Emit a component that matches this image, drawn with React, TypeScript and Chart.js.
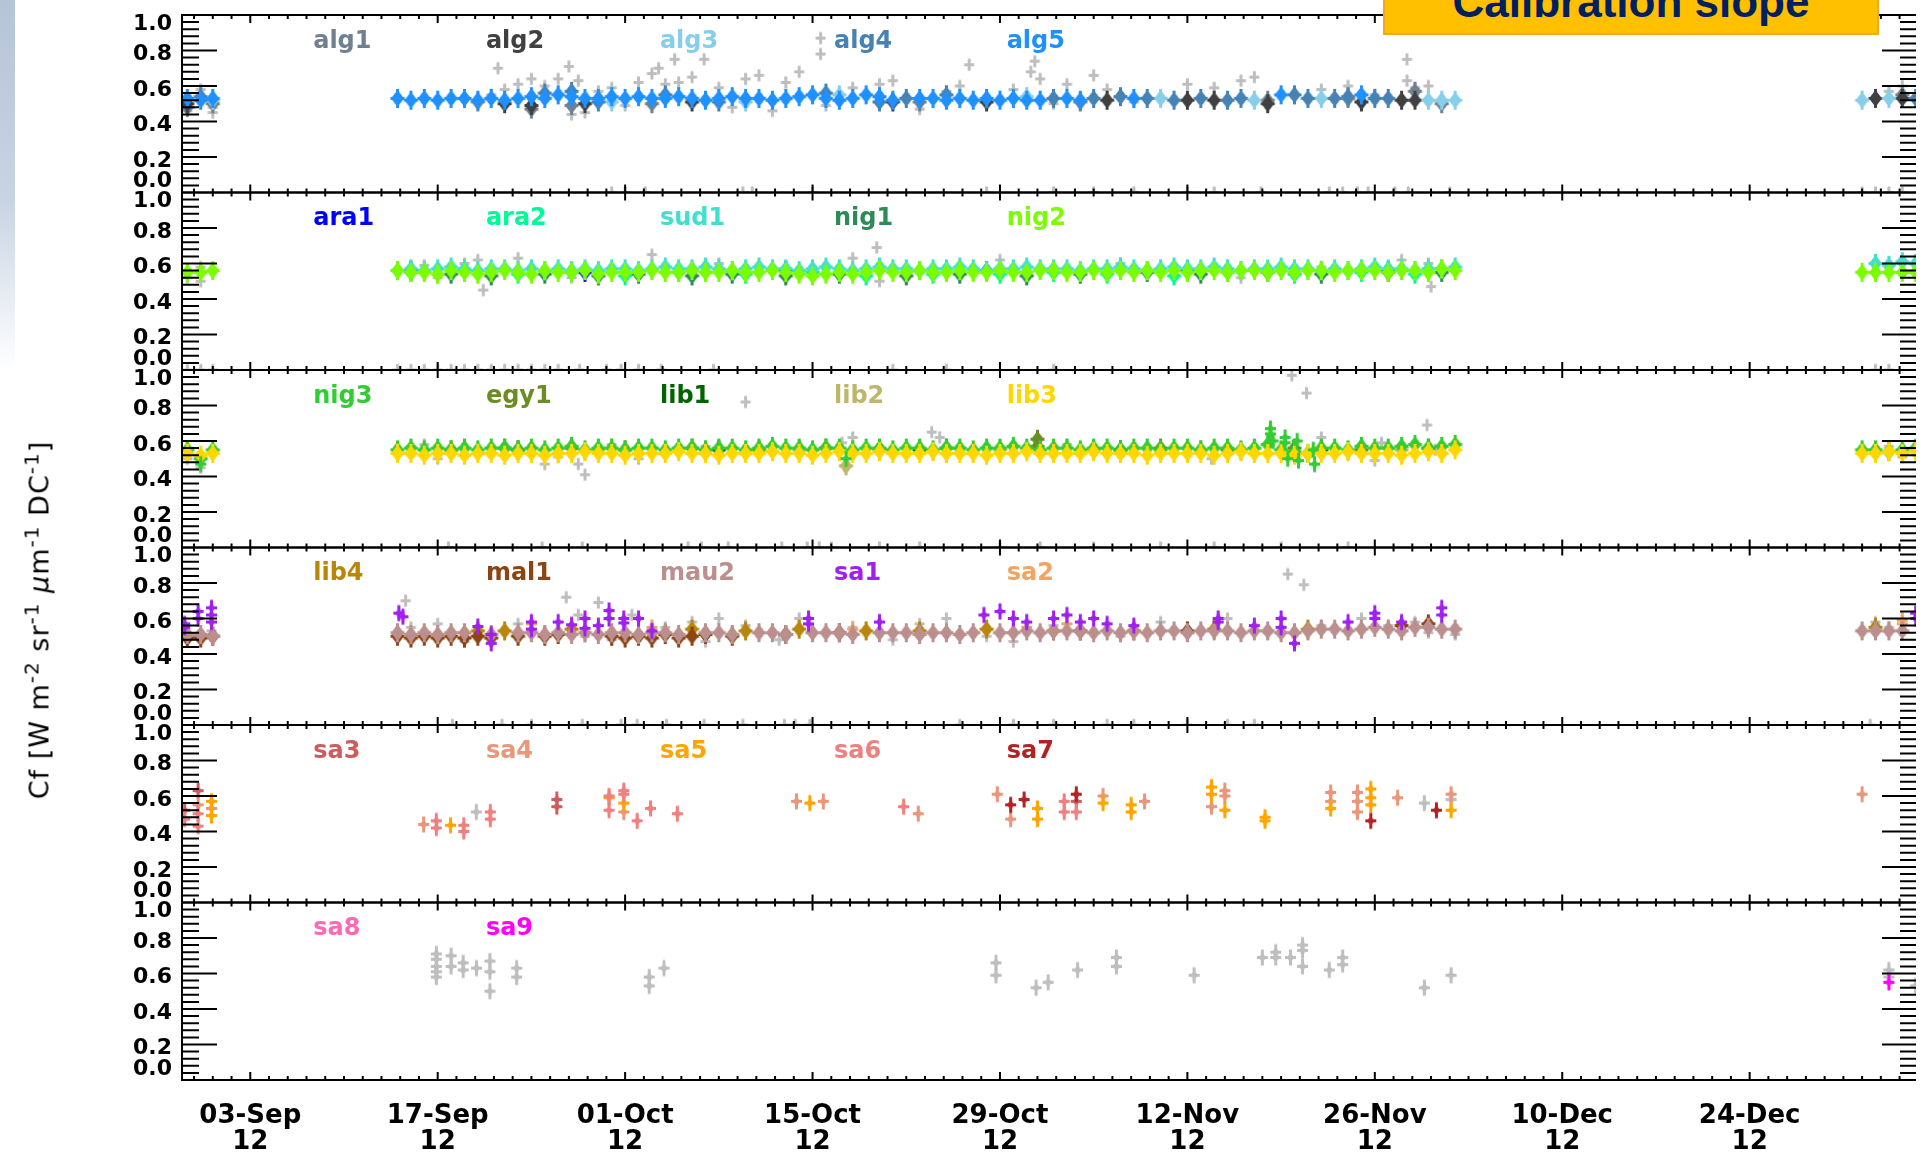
import React, { useEffect, useRef } from 'react';
import { Chart, registerables } from 'chart.js';

Chart.register(...registerables);

/* ---------------- axes ---------------- */
// x values are days counted from 03-Sep-2012
const xRange = [-5.1, 124.5];
const tickDays = [0, 14, 28, 42, 56, 70, 84, 98, 112];
const tickDates = ['03-Sep', '17-Sep', '01-Oct', '15-Oct', '29-Oct', '12-Nov', '26-Nov', '10-Dec', '24-Dec'];
const tickYear = '12';
const yTicks = [0, 0.2, 0.4, 0.6, 0.8, 1.0];
const yTickText = ['0.0', '0.2', '0.4', '0.6', '0.8', '1.0'];

/* ---------------- data ---------------- */
type Pt = [number, number];

// days carrying a daily mean
const bandDays = [
  -4.7, -3.7, -2.8,
  11, 12, 13, 14, 15, 16, 17, 18, 19, 20,
  21, 22, 23, 24, 25, 26, 27, 28, 29, 30,
  31, 32, 33, 34, 35, 36, 37, 38, 39, 40,
  41, 42, 43, 44, 45, 46, 47, 48, 49, 50,
  51, 52, 53, 54, 55, 56, 57, 58, 59, 60,
  61, 62, 63, 64, 65, 66, 67, 68, 69, 70,
  71, 72, 73, 74, 75, 76, 77, 78, 79, 80,
  81, 82, 83, 84, 85, 86, 87, 88, 89, 90,
  120.4, 121.4, 122.4, 123.4, 124.4,
];

// ---- panel 1: Algeria
const alg5Band = [
  0.53, 0.52, 0.53,
  0.53, 0.52, 0.53, 0.52, 0.53, 0.53, 0.52, 0.53, 0.52, 0.53,
  0.54, 0.53, 0.55, 0.54, 0.53, 0.53, 0.54, 0.53, 0.54, 0.53,
  0.53, 0.54, 0.53, 0.52, 0.53, 0.54, 0.53, 0.53, 0.52, 0.53,
  0.54, 0.55, 0.53, 0.52, 0.53, 0.55, 0.54, 0.52, null, 0.53,
  0.53, 0.52, 0.53, 0.52, 0.53, 0.52, 0.53, 0.52, 0.52, null,
  0.53, 0.52, null, null, null, 0.53, null, null, null, null,
  null, null, null, null, null, null, 0.55, null, null, null,
  null, null, 0.55, null, null, null, null, null, null, null,
  null, null, null, null, null,
];
const alg4: Pt[] = [[-3.7, 0.54], [22, 0.56], [24, 0.57], [26, 0.51], [31, 0.55], [35, 0.51], [43, 0.56], [47, 0.51], [49, 0.53], [52, 0.55], [60, 0.53], [63, 0.53], [65, 0.54], [67, 0.53], [69, 0.52], [71, 0.53], [73, 0.52], [74, 0.53], [78, 0.55], [79, 0.53], [81, 0.53], [82, 0.54], [84, 0.53], [85, 0.53], [124.4, 0.53]];
const alg2: Pt[] = [[-4.7, 0.5], [19, 0.5], [21, 0.49], [25, 0.5], [33, 0.51], [48, 0.51], [55, 0.51], [64, 0.52], [70, 0.52], [72, 0.52], [76, 0.5], [83, 0.51], [86, 0.52], [87, 0.52], [121.4, 0.53], [123.4, 0.53]];
const alg3: Pt[] = [[-2.8, 0.52], [27, 0.51], [37, 0.51], [44, 0.55], [58, 0.54], [68, 0.53], [75, 0.52], [80, 0.53], [88, 0.52], [89, 0.52], [90, 0.52], [120.4, 0.52], [122.4, 0.53]];
const alg1: Pt[] = [[-4.7, 0.48], [-2.8, 0.5], [17, 0.51], [21, 0.47], [24, 0.49], [30, 0.5], [50, 0.51], [62, 0.51], [76, 0.52], [82, 0.53], [87, 0.57], [89, 0.5], [123.4, 0.55]];
const rejected1: Pt[] = [
  [-4.7, 0.46], [-3.7, 0.58], [-2.8, 0.45], [-2.8, 0.48], [18, 0.55], [18.5, 0.7], [19, 0.58], [20, 0.61], [21, 0.64], [22, 0.6],
  [23, 0.64], [23.8, 0.71], [24, 0.44], [24.5, 0.63], [25, 0.45], [26, 0.57], [27, 0.59], [28, 0.49], [29, 0.62], [30, 0.67],
  [30.5, 0.7], [31, 0.61], [31.7, 0.75], [32, 0.62], [33, 0.65], [33.9, 0.75], [35, 0.59], [36, 0.48], [37, 0.64], [38, 0.66],
  [39, 0.46], [40, 0.62], [41, 0.68], [42.6, 0.87], [42.6, 0.78], [43, 0.49], [45, 0.59], [47, 0.61], [48, 0.63], [50, 0.47],
  [52, 0.57], [53, 0.6], [53.7, 0.72], [57, 0.58], [58.3, 0.68], [58.6, 0.74], [59, 0.64], [60, 0.5], [61, 0.61], [63, 0.66],
  [64, 0.58], [66, 0.51], [70, 0.61], [72, 0.59], [74, 0.63], [75, 0.65], [80, 0.58], [82, 0.6], [84, 0.55], [86.4, 0.75],
  [86.4, 0.63], [87, 0.59], [88, 0.6], [122.4, 0.57], [123.4, 0.6],
  [27, 0], [28, 0], [29.5, 0], [36.8, 0], [37.5, 0], [42, 0], [55, 0], [60, 0], [63, 0], [66, 0], [70, 0], [72, 0],
  [75.5, 0], [80.6, 0], [81.6, 0], [82.7, 0], [83.5, 0], [85.5, 0], [86.5, 0], [89.6, 0], [120.4, 0], [121.4, 0], [122.4, 0], [123.4, 0],
];

// ---- panel 2: Arabia, Sudan, Niger
const nig2Band = [
  0.55, 0.55, 0.56,
  0.56, 0.55, 0.55, 0.54, 0.56, 0.55, 0.54, 0.55, 0.56, 0.55,
  0.54, 0.56, 0.55, 0.55, 0.56, 0.54, 0.55, 0.55, 0.55, 0.56,
  0.55, 0.55, 0.56, 0.55, 0.55, 0.56, 0.55, 0.55, 0.56, 0.55,
  0.54, 0.53, 0.54, 0.55, 0.54, 0.55, 0.56, 0.55, 0.55, 0.56,
  0.55, 0.55, 0.56, 0.55, 0.55, 0.56, 0.55, 0.55, 0.56, 0.56,
  0.55, 0.55, 0.56, 0.55, 0.56, 0.55, 0.56, 0.55, 0.56, 0.55,
  0.56, 0.56, 0.55, 0.56, 0.56, 0.55, 0.56, 0.55, 0.56, 0.56,
  0.55, 0.56, 0.56, 0.56, 0.55, 0.56, 0.56, 0.55, 0.57, 0.56,
  0.55, 0.55, 0.55, 0.55, 0.55,
];
const sud1Band = [
  null, null, null,
  0.56, 0.57, 0.56, 0.57, 0.58, 0.57, 0.56, 0.57, 0.57, 0.56,
  0.57, 0.56, 0.57, 0.56, 0.57, 0.56, 0.57, 0.57, 0.56, 0.57,
  0.58, 0.57, 0.57, 0.58, 0.57, 0.56, 0.57, 0.58, 0.57, 0.57,
  0.56, 0.57, 0.58, 0.57, 0.56, 0.57, 0.58, 0.57, 0.57, 0.56,
  0.57, 0.57, 0.58, 0.57, 0.56, 0.57, 0.57, 0.58, 0.57, 0.57,
  0.57, 0.56, 0.57, 0.57, 0.58, 0.57, 0.56, 0.57, 0.58, 0.57,
  0.57, 0.58, 0.57, 0.56, 0.57, 0.57, 0.58, 0.57, 0.57, 0.56,
  0.57, 0.56, 0.57, 0.58, 0.57, 0.57, 0.56, 0.57, 0.57, 0.58,
  null, 0.6, 0.59, 0.61, 0.6,
];
const nig1: Pt[] = [[15, 0.54], [18, 0.53], [22, 0.54], [26, 0.53], [29, 0.54], [33, 0.53], [36, 0.54], [40, 0.53], [44, 0.54], [49, 0.53], [53, 0.54], [58, 0.53], [62, 0.54], [67, 0.55], [71, 0.54], [76, 0.55], [80, 0.54], [85, 0.55], [89, 0.55]];
const ara2: Pt[] = [[12, 0.55], [16, 0.56], [20, 0.54], [24, 0.55], [28, 0.53], [32, 0.55], [37, 0.54], [42, 0.55], [46, 0.53], [51, 0.54], [56, 0.54], [60, 0.55], [64, 0.54], [69, 0.53], [73, 0.55], [78, 0.54], [83, 0.55], [87, 0.54]];
const ara1: Pt[] = [[12, 0.56], [25, 0.55], [40, 0.56], [55, 0.56], [70, 0.56], [85, 0.56]];
const rejected2: Pt[] = [
  [-4.7, 0.52], [-3.7, 0.5], [-3.7, 0.58], [13, 0.59], [14, 0.52], [16, 0.6], [17, 0.62], [17.4, 0.45], [18, 0.55], [20, 0.63],
  [24, 0.52], [30, 0.65], [33, 0.55], [35, 0.6], [40, 0.52], [45, 0.63], [46.8, 0.69], [47, 0.5], [50, 0.55], [56, 0.62],
  [58, 0.54], [65, 0.6], [74, 0.52], [80, 0.58], [86, 0.62], [88.2, 0.47], [88, 0.6], [122.4, 0.58],
  [-4.7, 0], [-3.7, 0], [-2.8, 0], [11, 0], [12, 0], [13, 0], [14, 0], [15, 0], [16, 0], [17, 0], [18, 0], [19, 0],
  [20, 0], [21, 0], [22, 0], [23, 0], [24.6, 0], [26.6, 0], [27.7, 0], [29, 0], [30.7, 0], [34.6, 0], [48, 0], [52, 0],
  [60, 0], [121.4, 0], [122.4, 0],
];

// ---- panel 3: Niger, Egypt, Libya
const lib3Band = [
  0.53, 0.52, 0.53,
  0.53, 0.53, 0.52, 0.53, 0.53, 0.52, 0.53, 0.53, 0.52, 0.53,
  0.53, 0.52, 0.53, 0.53, 0.54, 0.53, 0.53, 0.52, 0.53, 0.53,
  0.53, 0.54, 0.53, 0.53, 0.52, 0.53, 0.53, 0.53, 0.54, 0.53,
  0.53, 0.52, 0.53, 0.54, 0.53, 0.53, 0.54, 0.53, 0.53, 0.53,
  0.54, 0.53, 0.53, 0.53, 0.52, 0.53, 0.53, 0.54, 0.53, 0.53,
  0.53, 0.53, 0.54, 0.53, 0.53, 0.53, 0.52, 0.53, 0.53, 0.53,
  0.53, 0.52, 0.53, 0.54, 0.53, 0.53, 0.53, 0.52, 0.53, 0.53,
  0.53, 0.54, 0.53, 0.53, 0.53, 0.52, 0.53, 0.54, 0.53, 0.55,
  0.53, 0.53, 0.54, 0.53, 0.54,
];
const nig3Band = [
  0.55, 0.5, 0.55,
  0.55, 0.56, 0.55, 0.56, 0.55, 0.56, 0.55, 0.56, 0.56, 0.55,
  0.56, 0.55, 0.56, 0.57, 0.55, 0.56, 0.56, 0.55, 0.56, 0.56,
  0.55, 0.56, 0.56, 0.55, 0.56, 0.56, 0.55, 0.56, 0.57, 0.56,
  0.56, 0.55, 0.56, 0.56, 0.55, 0.56, 0.56, 0.55, 0.56, 0.56,
  0.55, 0.56, 0.56, 0.55, 0.56, 0.56, 0.57, 0.56, 0.55, 0.56,
  0.56, 0.55, 0.56, 0.56, 0.55, 0.56, 0.56, 0.55, 0.56, 0.56,
  0.55, 0.56, 0.56, 0.55, 0.56, 0.58, 0.55, 0.54, 0.53, 0.56,
  0.56, 0.55, 0.57, 0.56, 0.56, 0.57, 0.58, 0.56, 0.57, 0.58,
  0.55, 0.55, 0.54, 0.55, 0.56,
];
const nig3Single: Pt[] = [[-3.7, 0.47], [44.5, 0.5], [76.2, 0.67], [76.2, 0.64], [76.4, 0.6], [77.3, 0.62], [77.3, 0.59], [77.5, 0.5], [78.2, 0.6], [78.3, 0.49], [79.4, 0.55], [79.5, 0.47]];
const egy1: Pt[] = [[15, 0.55], [19, 0.56], [24, 0.56], [28, 0.55], [33, 0.56], [38, 0.55], [43, 0.56], [47, 0.55], [52, 0.56], [58.8, 0.61], [58.8, 0.57], [63, 0.55], [68, 0.56], [73, 0.55], [78, 0.56], [83, 0.55], [88, 0.56]];
const lib1: Pt[] = [[20, 0.55], [35, 0.55], [50, 0.55], [65, 0.55], [80, 0.55]];
const lib2: Pt[] = [[26, 0.55], [41, 0.55], [44.5, 0.46], [56, 0.55], [71, 0.55], [86, 0.55]];
const rejected3: Pt[] = [
  [-4.7, 0.5], [-3.7, 0.45], [12, 0.57], [13, 0.58], [14, 0.5], [22, 0.47], [23, 0.51], [24.5, 0.47], [25, 0.41], [27, 0.58],
  [29, 0.5], [34, 0.57], [37, 0.82], [44.2, 0.59], [44.4, 0.46], [45, 0.62], [50.9, 0.65], [51.5, 0.62], [53, 0.55], [58, 0.57],
  [61, 0.58], [71.8, 0.5], [74, 0.56], [77.8, 0.97], [78.9, 0.87], [80, 0.62], [84, 0.49], [84.5, 0.59], [87.9, 0.69], [88.5, 0.55],
  [122.4, 0.57], [123.4, 0.51],
  [14.8, 0], [21.8, 0], [24.8, 0], [32.7, 0], [33.7, 0], [35.7, 0], [39.7, 0], [41.6, 0], [42.5, 0], [43.4, 0], [47, 0],
  [50, 0], [56, 0], [59, 0], [63, 0], [68, 0], [72, 0], [77, 0], [82, 0],
];

// ---- panel 4: Libya, Mali, Mauritania, Saudi Arabia
const mau2Band = [
  0.51, 0.51, 0.5,
  0.52, 0.51, 0.52, 0.51, 0.52, 0.52, null, 0.51, null, 0.52,
  0.52, 0.51, 0.52, 0.51, 0.52, 0.51, 0.52, 0.52, 0.51, 0.52,
  0.52, 0.51, null, 0.52, 0.52, 0.51, null, 0.52, 0.52, 0.51,
  null, 0.52, 0.52, 0.52, 0.51, null, 0.52, 0.52, 0.52, 0.51,
  0.52, 0.52, 0.51, 0.52, null, 0.52, 0.52, 0.53, 0.52, 0.53,
  0.53, 0.53, 0.52, 0.53, 0.52, 0.53, 0.52, 0.53, 0.53, 0.52,
  0.53, 0.53, 0.53, 0.52, 0.53, 0.53, 0.52, 0.52, 0.53, 0.54,
  0.54, 0.53, 0.54, 0.55, 0.54, 0.53, 0.55, 0.55, 0.54, 0.54,
  0.53, 0.53, 0.53, 0.53, null,
];
const mal1: Pt[] = [[-4.7, 0.49], [-3.7, 0.49], [-2.8, 0.5], [11, 0.5], [12, 0.49], [13, 0.5], [14, 0.49], [15, 0.5], [16, 0.49], [17, 0.5], [18, 0.49], [20, 0.5], [22, 0.5], [23, 0.51], [27, 0.5], [28, 0.49], [29, 0.5], [30, 0.49], [31, 0.51], [32, 0.49], [33, 0.5], [34, 0.51], [36, 0.5], [40, 0.51], [44, 0.52], [62, 0.53], [70, 0.53], [86, 0.56], [88, 0.57]];
const lib4: Pt[] = [[17, 0.53], [19, 0.53], [24, 0.54], [33, 0.54], [37, 0.53], [41, 0.54], [46, 0.53], [50, 0.53], [55, 0.54], [60, 0.53], [66, 0.53], [72, 0.54], [79, 0.54], [121.4, 0.55]];
const sa1: Pt[] = [
  [-4.9, 0.57], [-4.9, 0.55], [-3.9, 0.64], [-3.9, 0.6], [-2.9, 0.66], [-2.9, 0.62], [-2.9, 0.58],
  [11.1, 0.63], [11.4, 0.61], [17, 0.555], [18, 0.51], [18, 0.46], [21, 0.58], [21, 0.54], [23, 0.58], [24, 0.565], [25, 0.6],
  [25, 0.545], [26, 0.56], [26.8, 0.645], [26.8, 0.6], [27.9, 0.6], [27.9, 0.575], [29, 0.6], [30, 0.53], [41.7, 0.6], [41.7, 0.57],
  [47, 0.58], [54.8, 0.62], [56, 0.64], [57, 0.6], [58, 0.58], [60, 0.6], [61, 0.62], [62, 0.58], [63, 0.6], [64, 0.57],
  [66, 0.56], [72.3, 0.6], [72.3, 0.58], [75, 0.56], [77, 0.6], [77, 0.55], [78, 0.46], [82, 0.58], [84, 0.63], [84, 0.6],
  [86, 0.58], [89, 0.66], [89, 0.62], [124.4, 0.63], [124.4, 0.6],
];
const sa2: Pt[] = [[21, 0.57], [30, 0.55], [45, 0.54], [57, 0.52], [58, 0.55], [61, 0.57], [123.4, 0.57], [123.4, 0.59]];
const rejected4: Pt[] = [
  [-4.9, 0.55], [-3.9, 0.5], [-2.9, 0.53], [11.6, 0.7], [12, 0.55], [14, 0.57], [16, 0.47], [20, 0.57], [22, 0.5], [23.6, 0.72],
  [24.5, 0.62], [25, 0.5], [26, 0.69], [27, 0.48], [28.5, 0.62], [29, 0.5], [31, 0.55], [33, 0.58], [34, 0.47], [35, 0.6],
  [37, 0.56], [39.5, 0.48], [41, 0.6], [43, 0.52], [45, 0.55], [48, 0.48], [50, 0.57], [52, 0.6], [55, 0.5], [57, 0.47],
  [60, 0.56], [62, 0.52], [65, 0.5], [68, 0.58], [70, 0.53], [73, 0.6], [76, 0.52], [77.5, 0.85], [78.7, 0.79], [80, 0.56],
  [83, 0.6], [85, 0.56], [87, 0.58], [88, 0.52], [90, 0.51], [121.4, 0.58], [122.4, 0.55],
  [15.1, 0], [18.8, 0], [21, 0], [24.8, 0], [27.7, 0], [28.9, 0], [31.1, 0], [33.9, 0], [36.8, 0], [39.9, 0], [40.7, 0],
  [41.8, 0], [53, 0], [57, 0], [60, 0], [64, 0], [66, 0], [70, 0], [73, 0], [75, 0], [121, 0],
];

// ---- panel 5: Saudi Arabia 3-7
const sa3: Pt[] = [[-4.9, 0.52], [-3.9, 0.63], [22.9, 0.58], [22.9, 0.54], [61.7, 0.57]];
const sa4: Pt[] = [[-3.9, 0.55], [-2.9, 0.53], [12.95, 0.44], [27.9, 0.51], [40.8, 0.57], [42.8, 0.57], [49.9, 0.5], [55.8, 0.61], [56.8, 0.47], [63.7, 0.6], [66.8, 0.57], [71.8, 0.54], [72.8, 0.63], [72.8, 0.6], [80.7, 0.62], [80.7, 0.57], [82.7, 0.62], [82.7, 0.57], [82.7, 0.51], [85.7, 0.59], [89.7, 0.61], [120.4, 0.61]];
const sa5: Pt[] = [[-2.9, 0.57], [-2.9, 0.49], [14.96, 0.435], [26.8, 0.59], [27.9, 0.56], [41.8, 0.56], [58.8, 0.53], [58.8, 0.47], [63.7, 0.56], [65.8, 0.55], [65.8, 0.51], [71.8, 0.65], [71.8, 0.61], [72.8, 0.52], [75.8, 0.48], [75.8, 0.46], [80.7, 0.53], [83.7, 0.64], [83.7, 0.59], [83.7, 0.55], [89.7, 0.52]];
const sa6: Pt[] = [[-4.9, 0.47], [-3.9, 0.5], [-3.9, 0.43], [13.9, 0.46], [13.9, 0.42], [15.95, 0.435], [15.95, 0.4], [17.93, 0.51], [17.93, 0.47], [26.8, 0.6], [26.8, 0.52], [27.9, 0.63], [27.9, 0.61], [28.9, 0.46], [29.9, 0.53], [31.9, 0.5], [48.8, 0.54], [60.8, 0.57], [60.8, 0.51], [61.7, 0.51]];
const sa7: Pt[] = [[56.8, 0.55], [57.8, 0.58], [61.7, 0.61], [83.7, 0.46], [88.6, 0.52]];
const rejected5: Pt[] = [[16.88, 0.51], [87.7, 0.56], [89.7, 0.58]];

// ---- panel 6: Saudi Arabia 8-9
const sa8: Pt[] = [];
const sa9: Pt[] = [[122.4, 0.55]];
const rejected6: Pt[] = [
  [13.9, 0.71], [13.9, 0.68], [13.9, 0.64], [13.9, 0.61], [13.9, 0.58], [15, 0.7], [15, 0.64], [15.9, 0.66], [15.9, 0.62],
  [16.9, 0.63], [17.9, 0.67], [17.9, 0.61], [17.9, 0.5], [19.9, 0.63], [19.9, 0.58], [29.8, 0.58], [29.8, 0.53], [30.9, 0.63],
  [55.7, 0.66], [55.7, 0.59], [58.7, 0.52], [59.6, 0.55], [61.8, 0.62], [64.7, 0.69], [64.7, 0.64], [70.5, 0.59], [75.6, 0.69],
  [76.6, 0.72], [76.6, 0.69], [77.7, 0.69], [78.6, 0.76], [78.6, 0.73], [78.6, 0.64], [80.6, 0.62], [81.6, 0.69], [81.6, 0.65],
  [87.7, 0.52], [89.7, 0.59], [122.4, 0.62], [122.4, 0.58], [124.4, 0.53],
];

/* ---------------- styling ---------------- */
const GRAY = '#bebebe';
const siteColor: Record<string, string> = {
  alg1: '#708090', alg2: '#404040', alg3: '#87ceeb', alg4: '#4682b4', alg5: '#1e90ff',
  ara1: '#0000ff', ara2: '#00fa9a', sud1: '#40e0d0', nig1: '#2e8b57', nig2: '#7cfc00',
  nig3: '#32cd32', egy1: '#6b8e23', lib1: '#006400', lib2: '#bdb76b', lib3: '#ffd700',
  lib4: '#b8860b', mal1: '#8b4513', mau2: '#bc8f8f', sa1: '#a020f0', sa2: '#f4a460',
  sa3: '#cd5c5c', sa4: '#e9967a', sa5: '#ffa500', sa6: '#f08080', sa7: '#b22222',
  sa8: '#ff69b4', sa9: '#ff00ff',
};
// x positions (days) where the site names of a panel start
const nameSlots = [4.7, 17.6, 30.6, 43.6, 56.5];

type Kind = 'mean' | 'single' | 'gray';
interface Layer { site: string; pts: Pt[]; kind: Kind }
interface Panel { id: string; sites: string[]; layers: Layer[] }

function onBand(vals: (number | null)[]): Pt[] {
  const out: Pt[] = [];
  vals.forEach((v, i) => {
    if (v !== null) out.push([bandDays[i], v]);
  });
  return out;
}

// layers are listed bottom first
const panels: Panel[] = [
  {
    id: 'p1', sites: ['alg1', 'alg2', 'alg3', 'alg4', 'alg5'],
    layers: [
      { site: 'rejected', pts: rejected1, kind: 'gray' },
      { site: 'alg1', pts: alg1, kind: 'mean' },
      { site: 'alg2', pts: alg2, kind: 'mean' },
      { site: 'alg3', pts: alg3, kind: 'mean' },
      { site: 'alg4', pts: alg4, kind: 'mean' },
      { site: 'alg5', pts: onBand(alg5Band), kind: 'mean' },
    ],
  },
  {
    id: 'p2', sites: ['ara1', 'ara2', 'sud1', 'nig1', 'nig2'],
    layers: [
      { site: 'rejected', pts: rejected2, kind: 'gray' },
      { site: 'ara1', pts: ara1, kind: 'mean' },
      { site: 'ara2', pts: ara2, kind: 'mean' },
      { site: 'nig1', pts: nig1, kind: 'mean' },
      { site: 'sud1', pts: onBand(sud1Band), kind: 'mean' },
      { site: 'nig2', pts: onBand(nig2Band), kind: 'mean' },
    ],
  },
  {
    id: 'p3', sites: ['nig3', 'egy1', 'lib1', 'lib2', 'lib3'],
    layers: [
      { site: 'rejected', pts: rejected3, kind: 'gray' },
      { site: 'lib2', pts: lib2, kind: 'mean' },
      { site: 'lib1', pts: lib1, kind: 'mean' },
      { site: 'egy1', pts: egy1, kind: 'mean' },
      { site: 'nig3', pts: onBand(nig3Band), kind: 'mean' },
      { site: 'lib3', pts: onBand(lib3Band), kind: 'mean' },
      { site: 'nig3', pts: nig3Single, kind: 'single' },
    ],
  },
  {
    id: 'p4', sites: ['lib4', 'mal1', 'mau2', 'sa1', 'sa2'],
    layers: [
      { site: 'rejected', pts: rejected4, kind: 'gray' },
      { site: 'sa2', pts: sa2, kind: 'single' },
      { site: 'lib4', pts: lib4, kind: 'mean' },
      { site: 'mal1', pts: mal1, kind: 'mean' },
      { site: 'mau2', pts: onBand(mau2Band), kind: 'mean' },
      { site: 'sa1', pts: sa1, kind: 'single' },
    ],
  },
  {
    id: 'p5', sites: ['sa3', 'sa4', 'sa5', 'sa6', 'sa7'],
    layers: [
      { site: 'rejected', pts: rejected5, kind: 'single' },
      { site: 'sa3', pts: sa3, kind: 'single' },
      { site: 'sa4', pts: sa4, kind: 'single' },
      { site: 'sa5', pts: sa5, kind: 'single' },
      { site: 'sa6', pts: sa6, kind: 'single' },
      { site: 'sa7', pts: sa7, kind: 'single' },
    ],
  },
  {
    id: 'p6', sites: ['sa8', 'sa9'],
    layers: [
      { site: 'rejected', pts: rejected6, kind: 'single' },
      { site: 'sa8', pts: sa8, kind: 'single' },
      { site: 'sa9', pts: sa9, kind: 'single' },
    ],
  },
];

/* ---------------- point sprites ---------------- */
const spriteCache = new Map<string, HTMLCanvasElement>();

function diamond(g: CanvasRenderingContext2D, cx: number, cy: number, rx: number, ry: number) {
  g.beginPath();
  g.moveTo(cx, cy - ry);
  g.lineTo(cx + rx, cy);
  g.lineTo(cx, cy + ry);
  g.lineTo(cx - rx, cy);
  g.closePath();
  g.fill();
}

function plus(g: CanvasRenderingContext2D, cx: number, cy: number, ax: number, ay: number, w: number) {
  g.fillRect(cx - w / 2, cy - ay, w, 2 * ay);
  g.fillRect(cx - ax, cy - w / 2, 2 * ax, w);
}

function sprite(color: string, kind: Kind): HTMLCanvasElement {
  const key = color + '|' + kind;
  const hit = spriteCache.get(key);
  if (hit) return hit;
  const c = document.createElement('canvas');
  const w = kind === 'mean' ? 17 : 15;
  const h = kind === 'mean' ? 21 : 19;
  c.width = w;
  c.height = h;
  const g = c.getContext('2d')!;
  const cx = w / 2;
  const cy = h / 2;
  g.fillStyle = color;
  if (kind === 'mean') {
    diamond(g, cx, cy, 6.5, 8.5);
    plus(g, cx, cy, 7, 9.5, 3);
  } else if (kind === 'single') {
    diamond(g, cx, cy, 3.5, 5.5);
    plus(g, cx, cy, 5.5, 8, 3);
  } else {
    plus(g, cx, cy, 5, 6, 3);
  }
  spriteCache.set(key, c);
  return c;
}

/* ---------------- plugins ---------------- */
const FONT = '"DejaVu Sans", "Liberation Sans", sans-serif';

// keep every layer inside its own panel
const panelClip = {
  id: 'panelClip',
  beforeDatasetDraw(chart: any, args: any) {
    const ys = chart.scales[args.meta.yAxisID];
    const xs = chart.scales.x;
    const ctx = chart.ctx as CanvasRenderingContext2D;
    ctx.save();
    ctx.beginPath();
    ctx.rect(xs.left, ys.top, xs.right - xs.left, ys.bottom - ys.top);
    ctx.clip();
  },
  afterDatasetDraw(chart: any) {
    chart.ctx.restore();
  },
};

// panel frames, inward ticks, y labels and site names
const panelFrames = {
  id: 'panelFrames',
  afterDatasetsDraw(chart: any) {
    const ctx = chart.ctx as CanvasRenderingContext2D;
    const xs = chart.scales.x;
    const L = xs.left;
    const R = xs.right;
    ctx.save();
    panels.forEach((panel) => {
      const ys = chart.scales[panel.id];
      const T = ys.top;
      const B = ys.bottom;
      ctx.strokeStyle = '#000';
      ctx.lineWidth = 2;
      ctx.beginPath();
      ctx.rect(L, T, R - L, B - T);
      for (let k = 1; k < 25; k++) {
        const y = ys.getPixelForValue(k * 0.04);
        const len = k % 5 === 0 ? 35 : 17;
        ctx.moveTo(L, y);
        ctx.lineTo(L + len, y);
        ctx.moveTo(R, y);
        ctx.lineTo(R - len, y);
      }
      for (let k = -3; k <= 89; k++) {
        const d = k * 1.4;
        if (d <= xs.min || d >= xs.max) continue;
        const x = xs.getPixelForValue(d);
        const len = k % 10 === 0 ? 8 : 4;
        ctx.moveTo(x, T);
        ctx.lineTo(x, T + len);
        ctx.moveTo(x, B);
        ctx.lineTo(x, B - len);
      }
      ctx.stroke();

      ctx.fillStyle = '#000';
      ctx.font = `bold 22px ${FONT}`;
      ctx.textAlign = 'right';
      ctx.textBaseline = 'middle';
      yTicks.forEach((v, i) => {
        const shift = v === 1 ? 9 : v === 0 ? -11 : 4;
        ctx.fillText(yTickText[i], L - 10, ys.getPixelForValue(v) + shift);
      });

      ctx.font = `bold 24px ${FONT}`;
      ctx.textAlign = 'left';
      panel.sites.forEach((site, i) => {
        ctx.fillStyle = siteColor[site];
        ctx.fillText(site, xs.getPixelForValue(nameSlots[i]), ys.getPixelForValue(0.85));
      });
    });
    ctx.restore();
  },
};

/* ---------------- component ---------------- */
const CANVAS_W = 1916;
const CANVAS_H = 1144;

export default function App() {
  const ref = useRef<HTMLCanvasElement>(null);

  useEffect(() => {
    document.documentElement.style.overflow = 'hidden';
    document.body.style.overflow = 'hidden';
    const canvas = ref.current;
    if (!canvas) return;

    const datasets: any[] = [];
    panels.forEach((panel) => {
      panel.layers.forEach((layer) => {
        const color = layer.site === 'rejected' ? GRAY : siteColor[layer.site];
        datasets.push({
          label: `${panel.id}-${layer.site}`,
          yAxisID: panel.id,
          xAxisID: 'x',
          data: layer.pts.map(([x, y]) => ({ x, y })),
          pointStyle: sprite(color, layer.kind),
          pointRadius: 6,
          showLine: false,
        });
      });
    });
    // Chart.js paints the first dataset last, so put the top layers first
    datasets.reverse();

    const scales: any = {
      x: {
        type: 'linear',
        position: 'bottom',
        min: xRange[0],
        max: xRange[1],
        grid: { display: false, drawTicks: false },
        border: { display: false },
        afterBuildTicks: (s: any) => {
          s.ticks = tickDays.map((value) => ({ value }));
        },
        afterFit: (s: any) => {
          s.height = 72;
        },
        ticks: {
          autoSkip: false,
          maxRotation: 0,
          padding: 23,
          color: '#000',
          font: { family: FONT, size: 26, weight: 'bold', lineHeight: 1.0 },
          callback: (_v: any, i: number) => [tickDates[i], tickYear],
        },
      },
    };
    panels.forEach((panel, i) => {
      scales[panel.id] = {
        type: 'linear',
        axis: 'y',
        position: 'left',
        stack: 'panels',
        stackWeight: 1,
        weight: panels.length - i,
        min: 0,
        max: 1,
        grid: { display: false, drawTicks: false },
        border: { display: false },
        ticks: { display: false },
        afterFit: (s: any) => {
          s.width = 174;
        },
      };
    });

    const chart = new Chart(canvas, {
      type: 'scatter',
      data: { datasets },
      options: {
        animation: false,
        responsive: false,
        maintainAspectRatio: false,
        devicePixelRatio: 1,
        events: [],
        layout: { padding: { top: 6, right: 1, left: 0, bottom: 0 } },
        plugins: { legend: { display: false }, tooltip: { enabled: false } },
        scales,
      } as any,
      plugins: [panelClip, panelFrames],
    });
    return () => chart.destroy();
  }, []);

  return (
    <div style={{ position: 'relative', width: CANVAS_W, height: CANVAS_H }}>
      <div
        style={{
          position: 'fixed', left: 0, top: 0, width: 15, height: 370,
          background: 'linear-gradient(180deg, #b6c4d8 0%, #c9d4e3 55%, rgba(235,240,246,0) 100%)',
        }}
      />
      <canvas ref={ref} width={CANVAS_W} height={CANVAS_H} style={{ display: 'block', position: 'relative' }} />
      <div
        style={{
          position: 'fixed', left: 37, top: 620, transform: 'translate(-50%, -50%) rotate(-90deg)',
          whiteSpace: 'nowrap', fontFamily: FONT, fontSize: 27, color: '#000', letterSpacing: 1,
        }}
      >
        Cf [W m<sup style={{ fontSize: 20 }}>-2</sup> sr<sup style={{ fontSize: 20 }}>-1</sup>{' '}
        <i>μ</i>m<sup style={{ fontSize: 20 }}>-1</sup> DC<sup style={{ fontSize: 20 }}>-1</sup>]
      </div>
      <div
        style={{
          position: 'fixed', left: 1383, top: -2, width: 496, height: 37, boxSizing: 'border-box',
          background: '#ffc000', border: '2px solid #f5a623', overflow: 'hidden',
        }}
      >
        <div
          style={{
            position: 'absolute', left: 0, right: 0, top: -20, textAlign: 'center',
            font: 'bold 44px "Liberation Sans", Arial, sans-serif', lineHeight: '44px', color: '#002060',
          }}
        >
          Calibration slope
        </div>
      </div>
    </div>
  );
}
